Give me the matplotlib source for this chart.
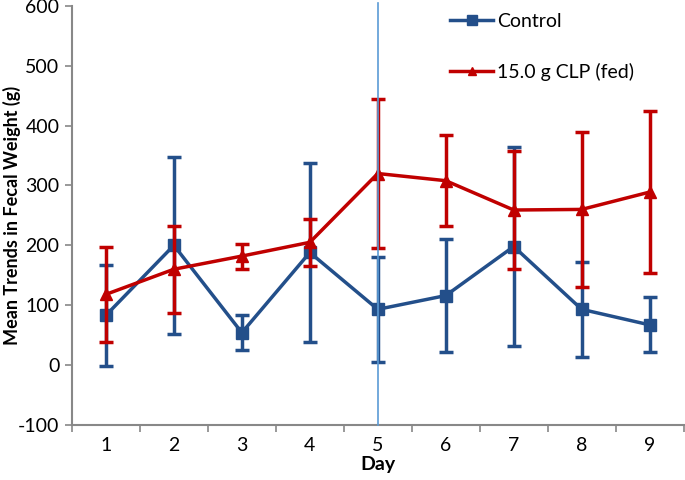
import matplotlib
matplotlib.use("Agg")
import matplotlib.pyplot as plt
import numpy as np

days = [1, 2, 3, 4, 5, 6, 7, 8, 9]
control_mean = [83, 200, 54, 188, 93, 116, 198, 93, 67]
control_err = [84, 148, 29, 150, 88, 95, 167, 79, 46]
clp_mean = [118, 160, 182, 205, 320, 308, 259, 260, 289]
clp_err = [79, 73, 21, 39, 125, 76, 99, 130, 136]
yticks = [-100, 0, 100, 200, 300, 400, 500, 600]

plt.rcParams['font.family'] = ['Lato', 'DejaVu Sans']
plt.rcParams['axes.unicode_minus'] = False

fig = plt.figure(figsize=(6.85, 4.8), dpi=100)
ax = fig.add_axes([0.105, 0.115, 0.893, 0.8725])

blue = '#234f8a'
red = '#c00000'

ax.plot([5, 5], [-100, 605], color='#5b9bd5', lw=1.2, clip_on=False, zorder=5)

ax.errorbar(days, control_mean, yerr=control_err, color=blue, lw=2.5,
            marker='s', markersize=9, capsize=5, capthick=2.5, elinewidth=2.5,
            label='Control', zorder=3)
ax.errorbar(days, clp_mean, yerr=clp_err, color=red, lw=2.5,
            marker='^', markersize=8, capsize=5, capthick=2.5, elinewidth=2.5,
            label='15.0 g CLP (fed)', zorder=4)

ax.set_xlim(0.5, 9.5)
ax.set_ylim(-100, 600)
ax.set_yticks(yticks)
ax.set_xticks(days)
ax.set_xticks(np.arange(0.5, 10, 1), minor=True)
ax.tick_params(axis='x', which='major', length=0, labelsize=14, pad=9)
ax.tick_params(axis='x', which='minor', length=5, color='#888888', width=1.2)
ax.tick_params(axis='y', length=5, color='#888888', width=1.2, labelsize=14, pad=4)

for s in ['top', 'right']:
    ax.spines[s].set_visible(False)
for s in ['left', 'bottom']:
    ax.spines[s].set_color('#888888')
    ax.spines[s].set_linewidth(1.5)

ax.set_xlabel('Day', fontsize=14, fontweight='bold', labelpad=1)
ax.set_ylabel('Mean Trends in Fecal Weight (g)', fontsize=13, fontweight='bold')
ax.yaxis.set_label_coords(-0.084, 0.5)

handles, labels = ax.get_legend_handles_labels()
handles = [h[0] for h in handles]
leg = ax.legend(handles, labels, loc='upper left', bbox_to_anchor=(0.59, 1.025), frameon=False,
                fontsize=14, labelspacing=1.7, handlelength=2.2, handletextpad=0.2,
                markerscale=0.8)

fig.savefig('out.png', dpi=100)
